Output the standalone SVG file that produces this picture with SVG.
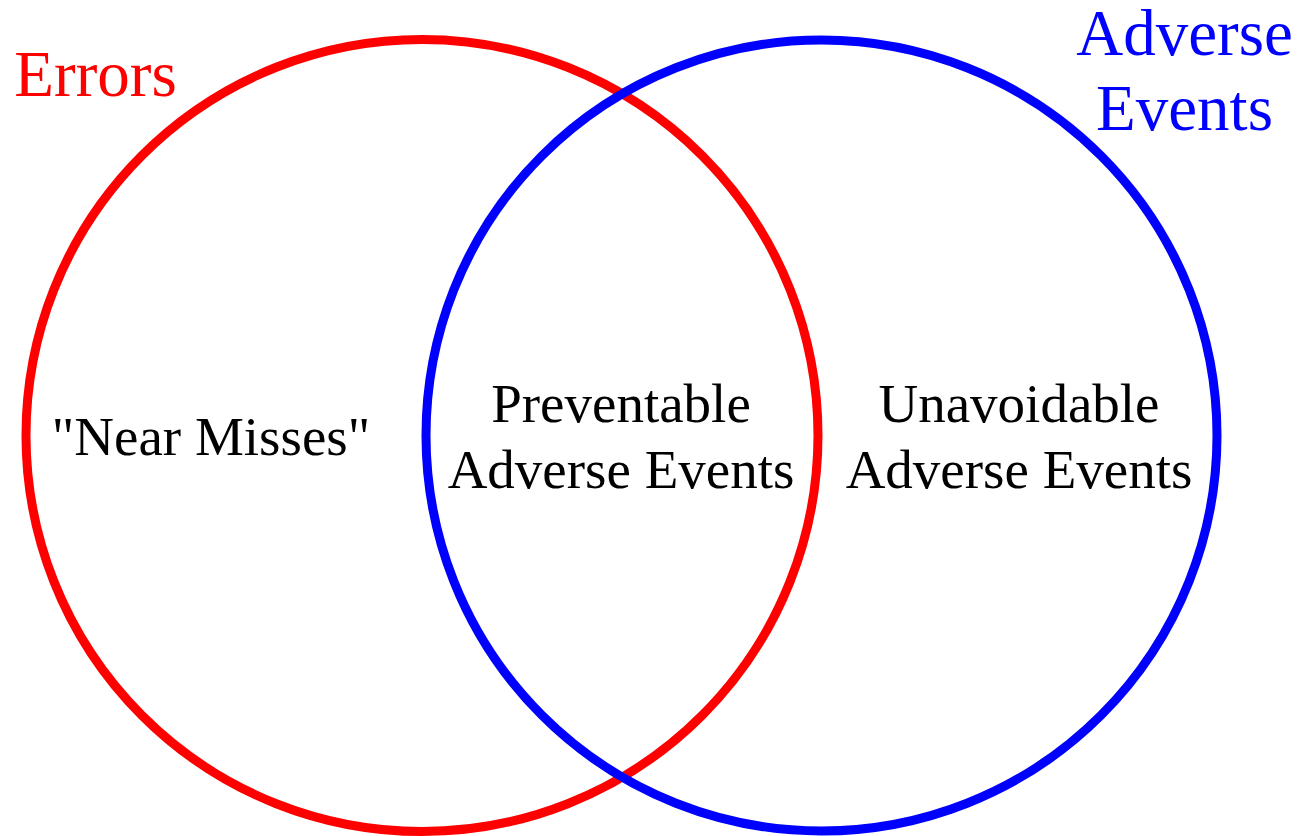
<svg xmlns="http://www.w3.org/2000/svg" width="1299" height="836" viewBox="0 0 1299 836">
<style>
.ring{fill:none;stroke-width:9}
.t{font-family:"Liberation Serif","Times New Roman",serif;text-anchor:middle}
.big{font-size:65px}
.mid{font-size:55px;fill:#000}
</style>
<rect width="1299" height="836" fill="#fff"/>
<g id="errors">
<circle class="ring" cx="422" cy="435.5" r="396" stroke="#ff0000"/>
<text class="t big" x="95.5" y="96" fill="#ff0000">Errors</text>
</g>
<g id="adverse-events">
<circle class="ring" cx="821.5" cy="435.5" r="395.5" stroke="#0000ff"/>
<text class="t big" x="1184.5" y="55" fill="#0000ff">Adverse</text>
<text class="t big" x="1184.5" y="130" fill="#0000ff">Events</text>
</g>
<g id="near-misses">
<text class="t mid" x="211" y="455">"Near Misses"</text>
</g>
<g id="preventable">
<text class="t mid" x="621" y="422">Preventable</text>
<text class="t mid" x="621" y="488">Adverse Events</text>
</g>
<g id="unavoidable">
<text class="t mid" x="1019" y="422">Unavoidable</text>
<text class="t mid" x="1019" y="488">Adverse Events</text>
</g>
<g id="connectors"></g>
</svg>
